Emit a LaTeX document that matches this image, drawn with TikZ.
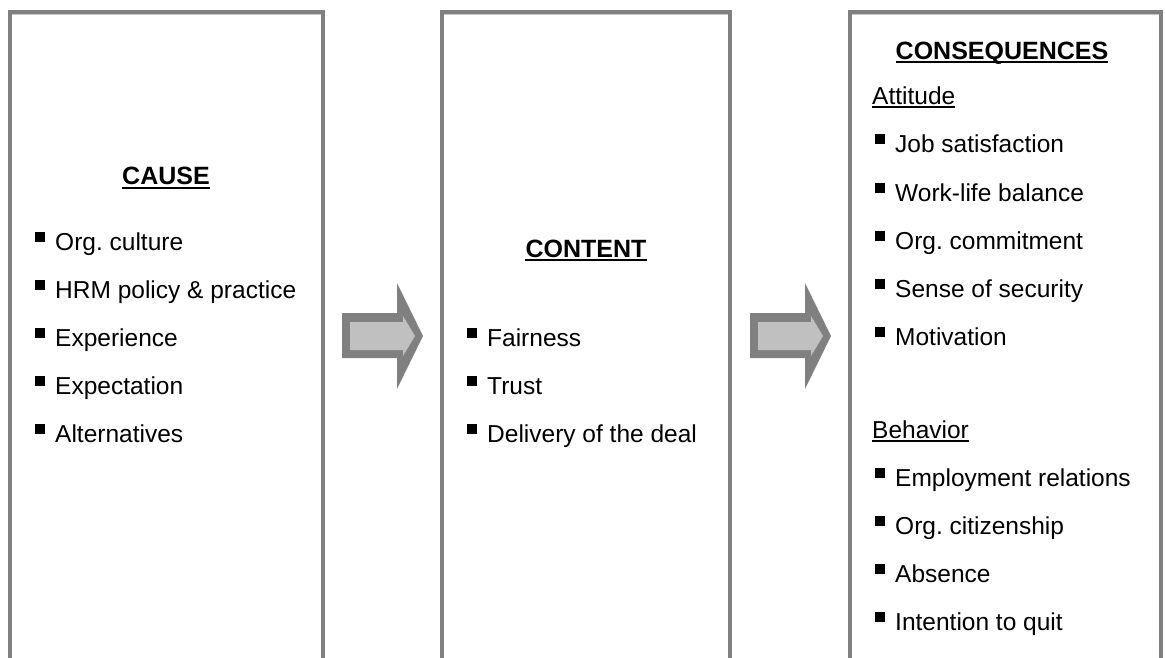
\documentclass[tikz,border=0pt]{standalone}
\usepackage{fontspec}
\setmainfont{Liberation Sans}
\definecolor{framegray}{RGB}{128,128,128}
\definecolor{framelight}{RGB}{200,200,200}
\definecolor{arrowfill}{RGB}{192,192,192}
\newcommand\sqbul{\rule[8.5pt]{10pt}{10pt}\hspace{10pt}}
\begin{document}
\frenchspacing
\begin{tikzpicture}[x=1pt,y=-1pt,
  frame/.style={draw=framegray,line width=4pt,line join=miter},
  frameedge/.style={draw=framelight,line width=1pt},
  item/.style={inner sep=0pt,anchor=base west,font=\fontsize{24.5}{28}\selectfont},
  heading/.style={inner sep=0pt,anchor=base,font=\fontsize{25}{29}\selectfont\bfseries},
  ulline/.style={line width=2pt},
  blockarrow/.pic={
    \fill[framegray] (0,313) -- (55,313) -- (55,283) -- (81,336) -- (55,389)
      -- (55,358) -- (0,358) -- cycle;
    \fill[arrowfill] (8,322) -- (61,322) -- (61,316) -- (73,336) -- (61,356)
      -- (61,350) -- (8,350) -- cycle;
  }
]
\useasboundingbox (0,0) rectangle (1165,658);

% three open-bottomed frames
\coordinate (f1l) at (10,12);  \coordinate (f1r) at (323,12);
\coordinate (f2l) at (442,12); \coordinate (f2r) at (730,12);
\coordinate (f3l) at (850,12); \coordinate (f3r) at (1161,12);
\draw[frame] (10,658) -- (f1l) -- (f1r) -- (323,658);
\draw[frame] (442,658) -- (f2l) -- (f2r) -- (730,658);
\draw[frame] (850,658) -- (f3l) -- (f3r) -- (1161,658);
\draw[frameedge] (12,14.5) -- (321,14.5);
\draw[frameedge] (444,14.5) -- (728,14.5);
\draw[frameedge] (852,14.5) -- (1159,14.5);

% block arrows between the frames
\pic at (342,0) {blockarrow};
\pic at (750,0) {blockarrow};

% CAUSE
\node[heading] (cause) at (166,185) {CAUSE};
\draw[ulline] ([yshift=-2.5pt]cause.base west) -- ([yshift=-2.5pt]cause.base east);
\node[item] (c1) at (35,250) {\sqbul Org. culture};
\node[item] (c2) at (35,298) {\sqbul HRM policy \& practice};
\node[item] (c3) at (35,346) {\sqbul Experience};
\node[item] (c4) at (35,394) {\sqbul Expectation};
\node[item] (c5) at (35,442) {\sqbul Alternatives};

% CONTENT
\node[heading] (content) at (586,257) {CONTENT};
\draw[ulline] ([yshift=-2.5pt]content.base west) -- ([yshift=-2.5pt]content.base east);
\node[item] (m1) at (467,346) {\sqbul Fairness};
\node[item] (m2) at (467,394) {\sqbul Trust};
\node[item] (m3) at (467,442) {\sqbul Delivery of the deal};

% CONSEQUENCES
\node[heading] (conseq) at (1002,60) {CONSEQUENCES};
\draw[ulline] ([yshift=-2.5pt]conseq.base west) -- ([yshift=-2.5pt]conseq.base east);
\node[item] (att) at (872,105) {Attitude};
\draw[ulline] ([yshift=-2.5pt]att.base west) -- ([yshift=-2.5pt]att.base east);
\node[item] (a1) at (875,153) {\sqbul Job satisfaction};
\node[item] (a2) at (875,201) {\sqbul Work-life balance};
\node[item] (a3) at (875,249) {\sqbul Org. commitment};
\node[item] (a4) at (875,297) {\sqbul Sense of security};
\node[item] (a5) at (875,345) {\sqbul Motivation};
\node[item] (beh) at (872,438) {Behavior};
\draw[ulline] ([yshift=-2.5pt]beh.base west) -- ([yshift=-2.5pt]beh.base east);
\node[item] (b1) at (875,486) {\sqbul Employment relations};
\node[item] (b2) at (875,534) {\sqbul Org. citizenship};
\node[item] (b3) at (875,582) {\sqbul Absence};
\node[item] (b4) at (875,630) {\sqbul Intention to quit};
\end{tikzpicture}
\end{document}
